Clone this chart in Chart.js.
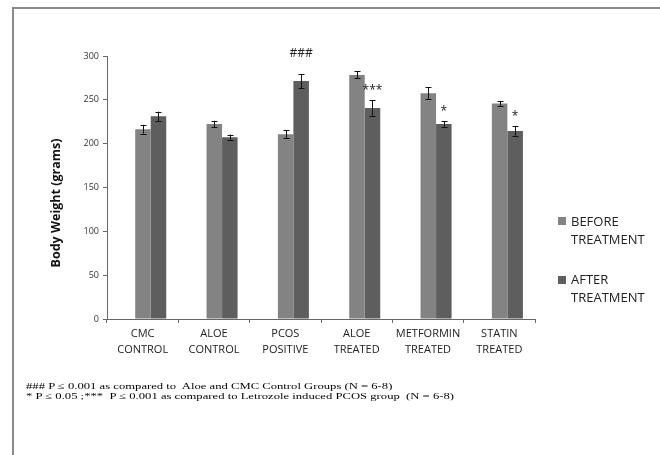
<!DOCTYPE html>
<html>
<head>
<meta charset="utf-8">
<script src="https://cdn.jsdelivr.net/npm/chart.js@4.4.1/dist/chart.umd.min.js"></script>
<style>
  html, body { margin: 0; padding: 0; background: #fff; }
  #wrap { position: relative; width: 660px; height: 455px; overflow: hidden; }
  #frame { position: absolute; left: 12px; top: 7px; width: 660px; height: 460px;
           border-left: 2px solid #8a8a8a; border-top: 2px solid #8a8a8a; }
  canvas { position: absolute; left: 0; top: 0; }
  .leg { position: absolute; left: 571px; font: 13px "Open Sans", sans-serif; line-height: 17.6px; color: #222; }
  .sw { position: absolute; left: 558px; width: 8px; height: 8px; }
  .note { position: absolute; left: 26px; font: 11px "Liberation Serif", serif; line-height: 11px;
          color: #000; white-space: pre; transform-origin: 0 0; transform: scale(1.15, 0.82); }
</style>
</head>
<body>
<div id="wrap">
  <div id="frame"></div>
  <canvas id="chart" width="660" height="455"></canvas>
  <div class="sw" id="swBefore" style="top:217px"></div>
  <div class="leg" style="top:213px">BEFORE<br>TREATMENT</div>
  <div class="sw" id="swAfter" style="top:276px"></div>
  <div class="leg" style="top:271px">AFTER<br>TREATMENT</div>
  <div class="note" style="top:381.5px">### P ≤ 0.001 as compared to  Aloe and CMC Control Groups (N = 6-8)</div>
  <div class="note" style="top:391.5px">* P ≤ 0.05 ;***  P ≤ 0.001 as compared to Letrozole induced PCOS group  (N = 6-8)</div>
</div>
<script>
const categories = [['CMC', 'CONTROL'], ['ALOE', 'CONTROL'], ['PCOS', 'POSITIVE'],
                    ['ALOE', 'TREATED'], ['METFORMIN', 'TREATED'], ['STATIN', 'TREATED']];
const beforeValues = [216.5, 222.5, 210.7, 278.4, 257.4, 245.7];
const beforeErrors = [5, 3.6, 4.7, 4, 7, 3];
const afterValues = [231.2, 207.4, 271.5, 240.7, 222.4, 214.5];
const afterErrors = [5.3, 3, 8, 9, 3, 5.5];
const afterMarks = ['', '', '###', '***', '*', '*'];
const yTicks = [0, 50, 100, 150, 200, 250, 300];

const beforeColor = '#838383';
const afterColor = '#5e5e5e';
const barShift = 0.113; // bars sit a little right of the category centre

document.getElementById('swBefore').style.background = beforeColor;
document.getElementById('swAfter').style.background = afterColor;

const errorBars = {
  id: 'errorBars',
  afterDatasetsDraw(chart) {
    const ctx = chart.ctx;
    const y = chart.scales.y;
    ctx.save();
    ctx.strokeStyle = '#111';
    ctx.lineWidth = 1;
    chart.data.datasets.forEach((ds, di) => {
      chart.getDatasetMeta(di).data.forEach((bar, i) => {
        const v = ds.data[i].y, e = ds.errors[i];
        const x = Math.round(bar.x) + 0.5;
        const top = y.getPixelForValue(v + e), bot = y.getPixelForValue(v - e);
        ctx.beginPath();
        ctx.moveTo(x, top); ctx.lineTo(x, bot);
        ctx.moveTo(x - 3, Math.round(top) + 0.5); ctx.lineTo(x + 3, Math.round(top) + 0.5);
        ctx.moveTo(x - 3, Math.round(bot) + 0.5); ctx.lineTo(x + 3, Math.round(bot) + 0.5);
        ctx.stroke();
      });
    });
    ctx.restore();
  },
  afterDraw(chart) {
    const ctx = chart.ctx;
    const y = chart.scales.y;
    const meta = chart.getDatasetMeta(1);
    ctx.save();
    ctx.fillStyle = '#222';
    ctx.textAlign = 'center';
    ctx.textBaseline = 'bottom';
    ctx.font = '12px "Open Sans", sans-serif';
    afterMarks.forEach((m, i) => {
      if (!m) return;
      const top = y.getPixelForValue(afterValues[i] + afterErrors[i]);
      const gap = m === '###' ? 14 : 4;
      ctx.fillText(m, meta.data[i].x, top - gap);
    });
    // y axis title
    ctx.translate(56, 203);
    ctx.rotate(-Math.PI / 2);
    ctx.textBaseline = 'middle';
    ctx.font = 'bold 12.5px "Open Sans", sans-serif';
    ctx.fillStyle = '#111';
    ctx.fillText('Body Weight (grams)', 0, 0);
    ctx.restore();
  }
};

new Chart(document.getElementById('chart'), {
  type: 'bar',
  data: {
    labels: categories,
    datasets: [
      { label: 'BEFORE TREATMENT', data: beforeValues.map((v, i) => ({ x: i + barShift, y: v })),
        errors: beforeErrors, backgroundColor: beforeColor, xAxisID: 'xb' },
      { label: 'AFTER TREATMENT', data: afterValues.map((v, i) => ({ x: i + barShift, y: v })),
        errors: afterErrors, backgroundColor: afterColor, xAxisID: 'xb' }
    ]
  },
  options: {
    responsive: false,
    animation: false,
    events: [],
    layout: { padding: { left: 0, top: 56, right: 125, bottom: 0 } },
    categoryPercentage: 0.435,
    barPercentage: 1,
    plugins: { legend: { display: false }, tooltip: { enabled: false } },
    scales: {
      xb: {
        type: 'linear', display: false, min: -0.5, max: 5.5, offset: false,
        afterBuildTicks: s => { s.ticks = categories.map((c, i) => ({ value: i })); }
      },
      x: {
        type: 'category', position: 'bottom', offset: true,
        grid: { display: true, drawOnChartArea: false, offset: true, tickLength: 4, color: '#666' },
        border: { color: '#666' },
        ticks: { color: '#222', padding: 3, maxRotation: 0, autoSkip: false,
                 font: { family: 'Open Sans', size: 11, lineHeight: 1.45 } },
        afterFit: s => { s.height = 455 - 319 - 0; }
      },
      y: {
        min: 0, max: 300,
        afterBuildTicks: s => { s.ticks = yTicks.map(v => ({ value: v })); },
        grid: { display: true, drawOnChartArea: false, tickLength: 4, color: '#666' },
        border: { color: '#666' },
        ticks: { color: '#333', padding: 4, font: { family: 'Open Sans', size: 9 } },
        afterFit: s => { s.width = 107; }
      }
    }
  },
  plugins: [errorBars]
});
</script>
</body>
</html>
